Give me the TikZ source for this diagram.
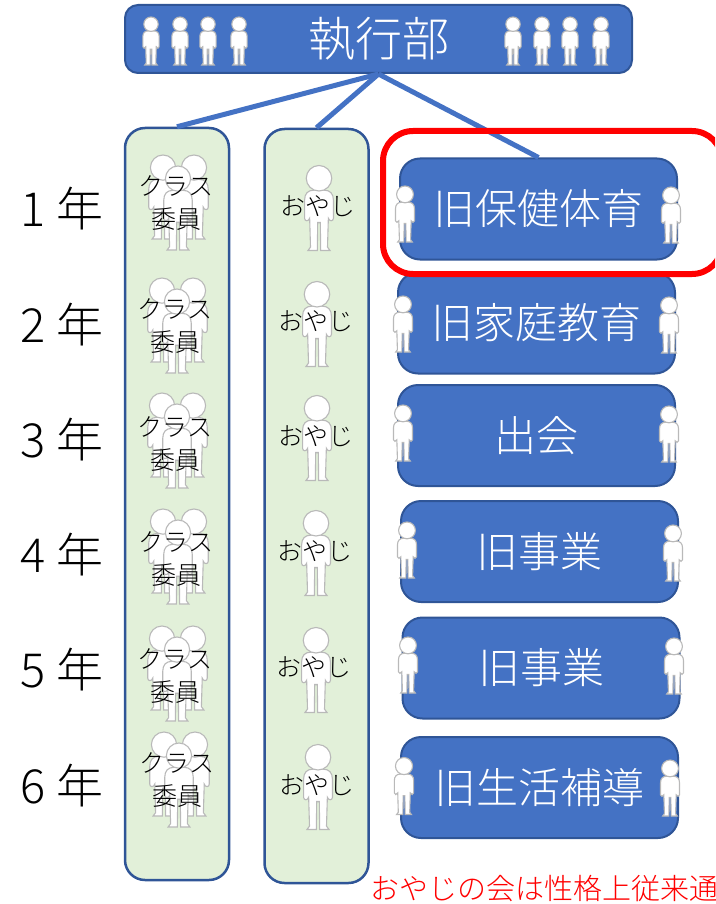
\documentclass[tikz,border=0pt]{standalone}
\usepackage{fontspec}
\setmainfont{Noto Sans CJK JP Light}
\usetikzlibrary{shapes,arrows,positioning,calc}
\definecolor{boxblue}{HTML}{4472C4}
\definecolor{edgeblue}{HTML}{2F5597}
\definecolor{colgreen}{HTML}{E2F0D9}
\tikzset{
	bluebox/.style={draw=edgeblue, line width=2pt, fill=boxblue, rounded corners=20pt, text=white, inner sep=0pt, minimum width=277pt, minimum height=101pt, font=\fontsize{42}{42}\selectfont},
	colbox/.style={draw=edgeblue, line width=2.5pt, fill=colgreen, rounded corners=20pt, inner sep=0pt, minimum width=104pt},
	link/.style={draw=boxblue, line width=5pt},
	yearlabel/.style={inner sep=0pt, font=\fontsize{47}{47}\selectfont},
	memberlabel/.style={inner sep=0pt, align=center, font=\fontsize{25}{33}\selectfont},
	person/.pic={
		\draw[draw=gray!55, line width=1.1pt, fill=white] (-.06,-.21) .. controls (-.13,-.21) and (-.17,-.17) .. (-.17,-.09)
			-- (-.17,.12) .. controls (-.17,.16) and (-.12,.16) .. (-.11,.12)
			-- (-.1,.46) -- (-.13,.5) -- (-.02,.5) -- (-.015,.17) -- (.015,.17) -- (.02,.5) -- (.13,.5) -- (.1,.46)
			-- (.11,.12) .. controls (.12,.16) and (.17,.16) .. (.17,.12)
			-- (.17,-.09) .. controls (.17,-.17) and (.13,-.21) .. (.06,-.21) -- cycle;
		\draw[draw=gray!55, line width=1.1pt, fill=white] (0,-.35) circle (.15);
	}
}
\begin{document}
\begin{tikzpicture}[x=1pt, y=-1pt]
	\clip (0,0) rectangle (715,904);

	% Columns
	\node[colbox, minimum height=752pt] (classcol) at (177,504) {};
	\node[colbox, minimum height=754pt] (oyajicol) at (316.5,506) {};

	% Top box
	\node[bluebox, rounded corners=13pt, minimum width=507pt, minimum height=68pt, font=\fontsize{47}{47}\selectfont] (exec) at (378.5,39) {執行部};
	\pic[scale=48] at (151,41) {person};
	\pic[scale=48] at (180,41) {person};
	\pic[scale=48] at (208,41) {person};
	\pic[scale=48] at (239,41) {person};
	\pic[scale=48] at (513,41) {person};
	\pic[scale=48] at (542,41) {person};
	\pic[scale=48] at (570,41) {person};
	\pic[scale=48] at (601,41) {person};

	% Committee boxes
	\node[bluebox] (comm1) at (538.5,209) {旧保健体育};
	\node[bluebox] (comm2) at (536.5,323) {旧家庭教育};
	\node[bluebox] (comm3) at (536.5,435.5) {出会};
	\node[bluebox] (comm4) at (539.5,551.5) {旧事業};
	\node[bluebox] (comm5) at (541,668) {旧事業};
	\node[bluebox] (comm6) at (539.5,787.5) {旧生活補導};

	% Links
	\draw[link] (exec.south) -- (classcol.north);
	\draw[link] (exec.south) -- (oyajicol.north);
	\draw[link] (exec.south) -- (comm1.north);

	% Row 1
	\node[yearlabel] (year1) at (62,209) {1 年};
	\pic[scale=84] at (163,197) {person};
	\pic[scale=84] at (194,197) {person};
	\pic[scale=84] at (178,208) {person};
	\node[memberlabel] (class1) at (176,203.5) {クラス\\委員};
	\pic[scale=85] at (319,208) {person};
	\node[memberlabel] (oyaji1) at (318,206) {おやじ};
	\pic[scale=56] at (405,214) {person};
	\pic[scale=56] at (671,215) {person};

	% Row 2
	\node[yearlabel] (year2) at (62,325) {2 年};
	\pic[scale=84] at (162,320) {person};
	\pic[scale=84] at (193,320) {person};
	\pic[scale=84] at (177,331) {person};
	\node[memberlabel] (class2) at (175,326.5) {クラス\\委員};
	\pic[scale=85] at (317,324) {person};
	\node[memberlabel] (oyaji2) at (316,321) {おやじ};
	\pic[scale=56] at (403,324) {person};
	\pic[scale=56] at (669,325) {person};

	% Row 3
	\node[yearlabel] (year3) at (62,440) {3 年};
	\pic[scale=84] at (162,435) {person};
	\pic[scale=84] at (193,435) {person};
	\pic[scale=84] at (177,446) {person};
	\node[memberlabel] (class3) at (175,444.5) {クラス\\委員};
	\pic[scale=85] at (317,438) {person};
	\node[memberlabel] (oyaji3) at (316,436) {おやじ};
	\pic[scale=56] at (403,433) {person};
	\pic[scale=56] at (669,434) {person};

	% Row 4
	\node[yearlabel] (year4) at (62,555) {4 年};
	\pic[scale=84] at (163,551) {person};
	\pic[scale=84] at (194,551) {person};
	\pic[scale=84] at (178,562) {person};
	\node[memberlabel] (class4) at (176,559.5) {クラス\\委員};
	\pic[scale=85] at (316,553) {person};
	\node[memberlabel] (oyaji4) at (315,551) {おやじ};
	\pic[scale=56] at (407,550) {person};
	\pic[scale=56] at (673,553) {person};

	% Row 5
	\node[yearlabel] (year5) at (62,670) {5 年};
	\pic[scale=84] at (162,668) {person};
	\pic[scale=84] at (193,668) {person};
	\pic[scale=84] at (177,679) {person};
	\node[memberlabel] (class5) at (175,676) {クラス\\委員};
	\pic[scale=85] at (316,670) {person};
	\node[memberlabel] (oyaji5) at (314,667) {おやじ};
	\pic[scale=56] at (408,665) {person};
	\pic[scale=56] at (674,666) {person};

	% Row 6
	\node[yearlabel] (year6) at (62,786) {6 年};
	\pic[scale=84] at (164,774) {person};
	\pic[scale=84] at (195,774) {person};
	\pic[scale=84] at (179,785) {person};
	\node[memberlabel] (class6) at (177,780) {クラス\\委員};
	\pic[scale=85] at (318,787) {person};
	\node[memberlabel] (oyaji6) at (317,785) {おやじ};
	\pic[scale=57] at (404,786) {person};
	\pic[scale=56] at (670,788) {person};

	% Red frame and note
	\node[draw=red, line width=6pt, rounded corners=30pt, inner sep=0pt, minimum width=339pt, minimum height=143pt] (frame) at (552.5,202.5) {};
	\node[anchor=west, inner sep=0pt, text=red, font=\fontsize{29}{29}\selectfont] (note) at (370,888) {おやじの会は性格上従来通};
\end{tikzpicture}
\end{document}
